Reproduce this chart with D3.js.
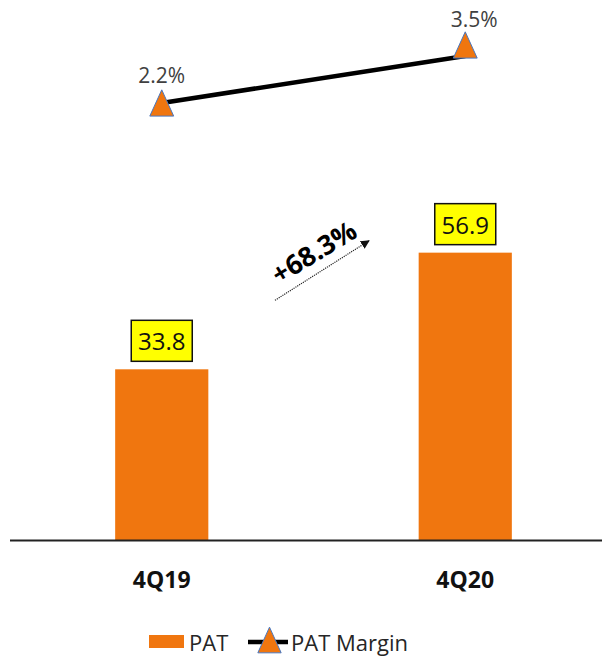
<!DOCTYPE html>
<html>
<head>
<meta charset="utf-8">
<script src="https://cdn.jsdelivr.net/npm/d3@7/dist/d3.min.js"></script>
<style>
    body { margin: 0; background: #fff; }
    svg { display: block; font-family: "Open Sans", "Noto Sans", sans-serif; }
</style>
</head>
<body>
<div id="chart"></div>
<script>
// data
const categories = ['4Q19', '4Q20'];
const patValues = [33.8, 56.9];
const marginValues = [2.2, 3.5];
const growthLabel = '+68.3%';
const legendLabels = ['PAT', 'PAT Margin'];

const width = 602;
const height = 657;
const orange = '#f0760f';

const svg = d3.select('#chart')
    .append('svg')
    .attr('width', width)
    .attr('height', height);

const defs = svg.append('defs');
defs.append('marker')
    .attr('id', 'arrow')
    .attr('viewBox', '0 0 10 10')
    .attr('refX', 9)
    .attr('refY', 5)
    .attr('markerWidth', 9)
    .attr('markerHeight', 9)
    .attr('markerUnits', 'userSpaceOnUse')
    .attr('orient', 'auto')
    .append('path')
    .attr('d', 'M0,0L10,5L0,10Z')
    .attr('fill', '#111');

// triangle a bit taller than equilateral, like the office marker
const tallTriangle = {
    draw(ctx, size) {
        const w = Math.sqrt(size) * 0.72;
        const h = w * 1.1;
        ctx.moveTo(0, -h / 2);
        ctx.lineTo(w / 2, h / 2);
        ctx.lineTo(-w / 2, h / 2);
        ctx.closePath();
    }
};

const x = d3.scaleBand()
    .domain(categories)
    .range([10, 617])
    .padding(0);

const barWidth = x.bandwidth() * 0.307;

const y = d3.scaleLinear()
    .domain([0, 60])
    .range([540, 237]);

const yM = d3.scaleLinear()
    .domain([0, 4])
    .range([182.5, 37.9]);

const cx = d => x(d) + x.bandwidth() / 2;

// bars
svg.selectAll('.bar')
    .data(categories)
    .enter().append('rect')
    .attr('class', 'bar')
    .attr('x', d => cx(d) - barWidth / 2)
    .attr('y', (d, i) => y(patValues[i]))
    .attr('width', barWidth)
    .attr('height', (d, i) => y(0) - y(patValues[i]))
    .attr('fill', orange);

// baseline
svg.append('line')
    .attr('x1', 10)
    .attr('x2', width)
    .attr('y1', y(0) + 0.5)
    .attr('y2', y(0) + 0.5)
    .attr('stroke', '#222')
    .attr('stroke-width', 1.8);

// value boxes
const boxW = 61, boxH = 41;
const boxes = svg.selectAll('.vbox')
    .data(categories)
    .enter().append('g')
    .attr('class', 'vbox')
    .attr('transform', (d, i) => `translate(${cx(d)},${y(patValues[i]) - 8 - boxH})`);

boxes.append('rect')
    .attr('x', -boxW / 2)
    .attr('y', 0)
    .attr('width', boxW)
    .attr('height', boxH)
    .attr('fill', '#ffff00')
    .attr('stroke', '#111')
    .attr('stroke-width', 1.5);

boxes.append('text')
    .attr('x', 0)
    .attr('y', 30)
    .attr('text-anchor', 'middle')
    .attr('font-size', '24px')
    .attr('fill', '#111')
    .text((d, i) => patValues[i].toFixed(1));

// category labels
svg.selectAll('.cat')
    .data(categories)
    .enter().append('text')
    .attr('class', 'cat')
    .attr('x', d => cx(d))
    .attr('y', 588)
    .attr('text-anchor', 'middle')
    .attr('font-size', '23px')
    .attr('font-weight', 'bold')
    .attr('fill', '#111')
    .text(d => d);

// margin line
const marginPts = categories.map((c, i) => [cx(c), yM(marginValues[i])]);

svg.append('path')
    .datum(marginPts)
    .attr('d', d3.line())
    .attr('fill', 'none')
    .attr('stroke', '#000')
    .attr('stroke-width', 4.5);

const tri = d3.symbol().type(tallTriangle).size(1100);

svg.selectAll('.mk')
    .data(marginPts)
    .enter().append('path')
    .attr('class', 'mk')
    .attr('transform', (d, i) => `translate(${d[0]},${d[1] - (i === 1 ? 11 : 0)})`)
    .attr('d', tri)
    .attr('fill', orange)
    .attr('stroke', '#4a78c0')
    .attr('stroke-width', 1);

svg.selectAll('.mlabel')
    .data(marginPts)
    .enter().append('text')
    .attr('class', 'mlabel')
    .attr('x', (d, i) => d[0] + (i === 1 ? 9 : 0))
    .attr('y', (d, i) => d[1] - (i === 1 ? 29 : 20))
    .attr('text-anchor', 'middle')
    .attr('font-size', '21px')
    .attr('fill', '#404040')
    .text((d, i) => marginValues[i].toFixed(1) + '%');

// growth arrow
const a0 = [x(categories[0]) + x.bandwidth() * 0.873, y(patValues[0]) - 69];
const a1 = [x(categories[1]) + x.bandwidth() * 0.183, y(patValues[1]) - 12];

svg.append('line')
    .attr('x1', a0[0])
    .attr('y1', a0[1])
    .attr('x2', a1[0])
    .attr('y2', a1[1])
    .attr('stroke', '#222')
    .attr('stroke-width', 1.2)
    .attr('stroke-dasharray', '1.2,1')
    .attr('marker-end', 'url(#arrow)');

const ang = Math.atan2(a1[1] - a0[1], a1[0] - a0[0]) * 180 / Math.PI;
const mid = [(a0[0] + a1[0]) / 2 - 3, (a0[1] + a1[1]) / 2 - 10];

svg.append('text')
    .attr('transform', `translate(${mid[0]},${mid[1]}) rotate(${ang + 1})`)
    .attr('text-anchor', 'middle')
    .attr('font-size', '27px')
    .attr('font-weight', 'bold')
    .attr('fill', '#000')
    .text(growthLabel);

// legend
const legend = svg.append('g').attr('transform', 'translate(0,642)');

legend.append('rect')
    .attr('x', 149)
    .attr('y', -7)
    .attr('width', 35)
    .attr('height', 13)
    .attr('fill', orange);

legend.append('text')
    .attr('x', 189)
    .attr('y', 9)
    .attr('font-size', '22px')
    .attr('fill', '#262626')
    .text(legendLabels[0]);

legend.append('line')
    .attr('x1', 248)
    .attr('x2', 288)
    .attr('y1', 0)
    .attr('y2', 0)
    .attr('stroke', '#000')
    .attr('stroke-width', 4.5);

legend.append('path')
    .attr('transform', 'translate(269.5,-2)')
    .attr('d', d3.symbol().type(tallTriangle).size(1050))
    .attr('fill', orange)
    .attr('stroke', '#4a78c0')
    .attr('stroke-width', 1);

legend.append('text')
    .attr('x', 291)
    .attr('y', 9)
    .attr('font-size', '22px')
    .attr('fill', '#262626')
    .text(legendLabels[1]);
</script>
</body>
</html>
